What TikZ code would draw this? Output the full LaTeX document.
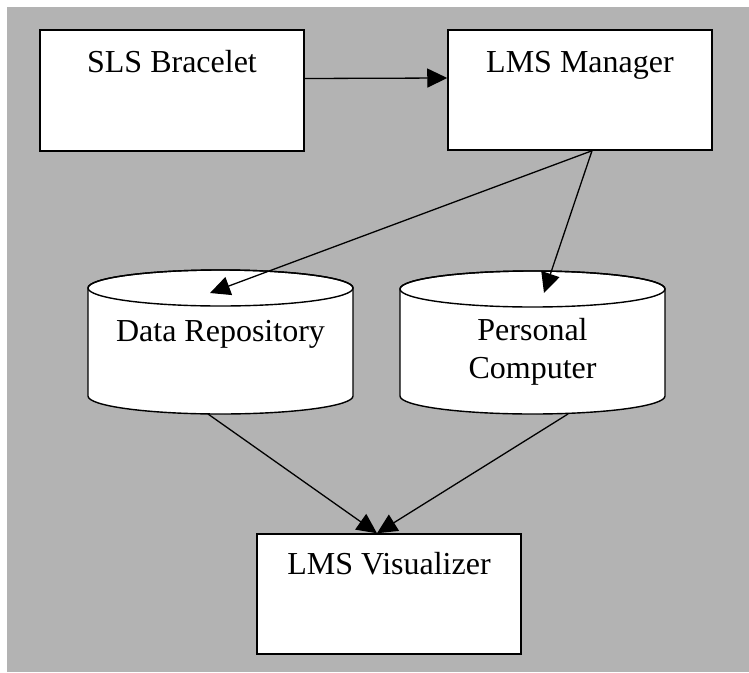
\documentclass[tikz,border=0pt]{standalone}
\usepackage{fontspec}
\setmainfont{Liberation Serif}
\usetikzlibrary{arrows.meta}
\definecolor{panel}{RGB}{179,179,179}
\tikzset{
  box/.style={draw=black, line width=1.5pt, fill=white, inner sep=0pt},
  label/.style={anchor=base, inner sep=0pt, font=\fontsize{32}{38}\selectfont},
  cyl/.style={draw=black, line width=1.4pt, fill=white},
  link/.style={draw=black, line width=1.3pt, -{Triangle[length=20pt,width=19pt]}},
}
% storage cylinder: centre x, top-ellipse centre y, bottom-ellipse centre y
% (y values grow downwards here, so angle 90 is the lower side of an ellipse)
\newcommand{\dbshape}[3]{%
  \path[cyl] (#1-132.5,#2) -- (#1-132.5,#3) arc[start angle=180,end angle=0,x radius=132.5,y radius=18]
    -- (#1+132.5,#2) arc[start angle=0,end angle=-180,x radius=132.5,y radius=18] -- cycle;
  \draw[line width=1.4pt] (#1,#2) ellipse[x radius=132.5,y radius=18];
}
\begin{document}
\begin{tikzpicture}[x=1pt,y=-1pt]
  \useasboundingbox (0,0) rectangle (749,672);
  \fill[panel] (7,7) rectangle (749,672);

  % rectangular components
  \node[box, minimum width=264pt, minimum height=121pt] (sls) at (172,90.5) {};
  \node[label] (slst) at (172,72) {SLS Bracelet};
  \node[box, minimum width=264pt, minimum height=120pt] (lms) at (580,90) {};
  \node[label] (lmst) at (580,72) {LMS Manager};
  \node[box, minimum width=264pt, minimum height=120pt] (viz) at (389,594) {};
  \node[label] (vizt) at (389,574) {LMS Visualizer};

  % storage cylinders
  \dbshape{220.5}{288}{396}
  \node[label] (drt) at (220.5,341) {Data Repository};
  \dbshape{532.5}{289}{396}
  \node[label] (pct) at (532.5,340) {Personal};
  \node[label] (pct2) at (532.5,378) {Computer};

  \coordinate (drtop) at (210,293);
  \coordinate (pctop) at (544,293);
  \coordinate (drbot) at (208,414);
  \coordinate (pcbot) at (568,414);
  \coordinate (vizin) at ([xshift=-12pt]viz.north);

  % data flow
  \draw[link] ([yshift=12pt]sls.east) -- ([yshift=12pt]lms.west);
  \draw[link] ([xshift=12pt]lms.south) -- (drtop);
  \draw[link] ([xshift=12pt]lms.south) -- (pctop);
  \draw[link] (drbot) -- (vizin);
  \draw[link] (pcbot) -- (vizin);
\end{tikzpicture}
\end{document}
